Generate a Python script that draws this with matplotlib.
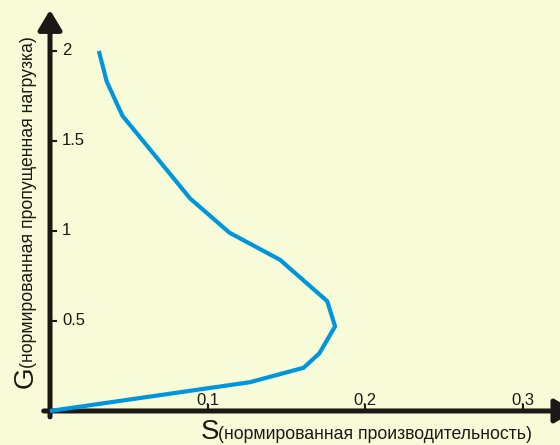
import matplotlib
matplotlib.use('Agg')
import matplotlib.pyplot as plt

plt.rcParams['font.family'] = ['Liberation Sans', 'DejaVu Sans']

# нормированная производительность S и нагрузка G
S = [0.0, 0.127, 0.161, 0.171, 0.181, 0.176, 0.146, 0.114, 0.089, 0.046, 0.036, 0.031]
G = [0.0, 0.16, 0.24, 0.32, 0.47, 0.61, 0.84, 0.99, 1.18, 1.64, 1.83, 2.0]

x_ticks = [0.1, 0.2, 0.3]
x_tick_labels = ['0.1', '0.2', '0.3']
y_ticks = [0.5, 1, 1.5, 2]
y_tick_labels = ['0.5', '1', '1.5', '2']

bg = '#f8fbd8'
ink = '#1c1815'
blue = '#0096dc'

fig = plt.figure(figsize=(5.6, 4.45), dpi=100, facecolor=bg)
ax = fig.add_axes([0, 0, 1, 1])
ax.set_facecolor(bg)
ax.axis('off')
ax.set_xlim(-0.03175, 0.3238)
ax.set_ylim(-0.189, 2.283)

# оси со стрелками
arrow = dict(arrowstyle='-|>,head_length=12,head_width=7.2', lw=3.6,
             color=ink, shrinkA=0, shrinkB=0, mutation_scale=1)
ax.annotate('', xy=(0, 2.228), xytext=(0, -0.033), arrowprops=arrow,
            annotation_clip=False)
ax.annotate('', xy=(0.333, 0.0), xytext=(-0.004, 0.0), arrowprops=arrow,
            annotation_clip=False)

# кривая
ax.plot(S, G, color=blue, lw=3.0, solid_capstyle='butt', zorder=3)

# деления и подписи
for t, lab in zip(x_ticks, x_tick_labels):
    ax.plot([t, t], [0.011, 0.033], color=ink, lw=1.5)
    ax.text(t, 0.033, lab, ha='center', va='baseline', fontsize=12, color=ink)
for t, lab in zip(y_ticks, y_tick_labels):
    ax.plot([0, 0.0035], [t, t], color=ink, lw=1.5)
    ax.text(0.0076, t, lab, ha='left', va='center', fontsize=12, color=ink)

# подписи осей
ax.text(-0.0108, 0.128, 'G', rotation=90, rotation_mode='anchor',
        ha='left', va='baseline', fontsize=20, color=ink)
ax.text(-0.0108, 0.239, '(нормированная пропущенная нагрузка)', rotation=90,
        rotation_mode='anchor', ha='left', va='baseline', fontsize=12.7, color=ink)
ax.text(0.0959, -0.156, 'S', ha='left', va='baseline', fontsize=20, color=ink)
ax.text(0.1067, -0.156, '(нормированная производительность)',
        ha='left', va='baseline', fontsize=12.7, color=ink)

fig.savefig('out.png', dpi=100, facecolor=bg)
